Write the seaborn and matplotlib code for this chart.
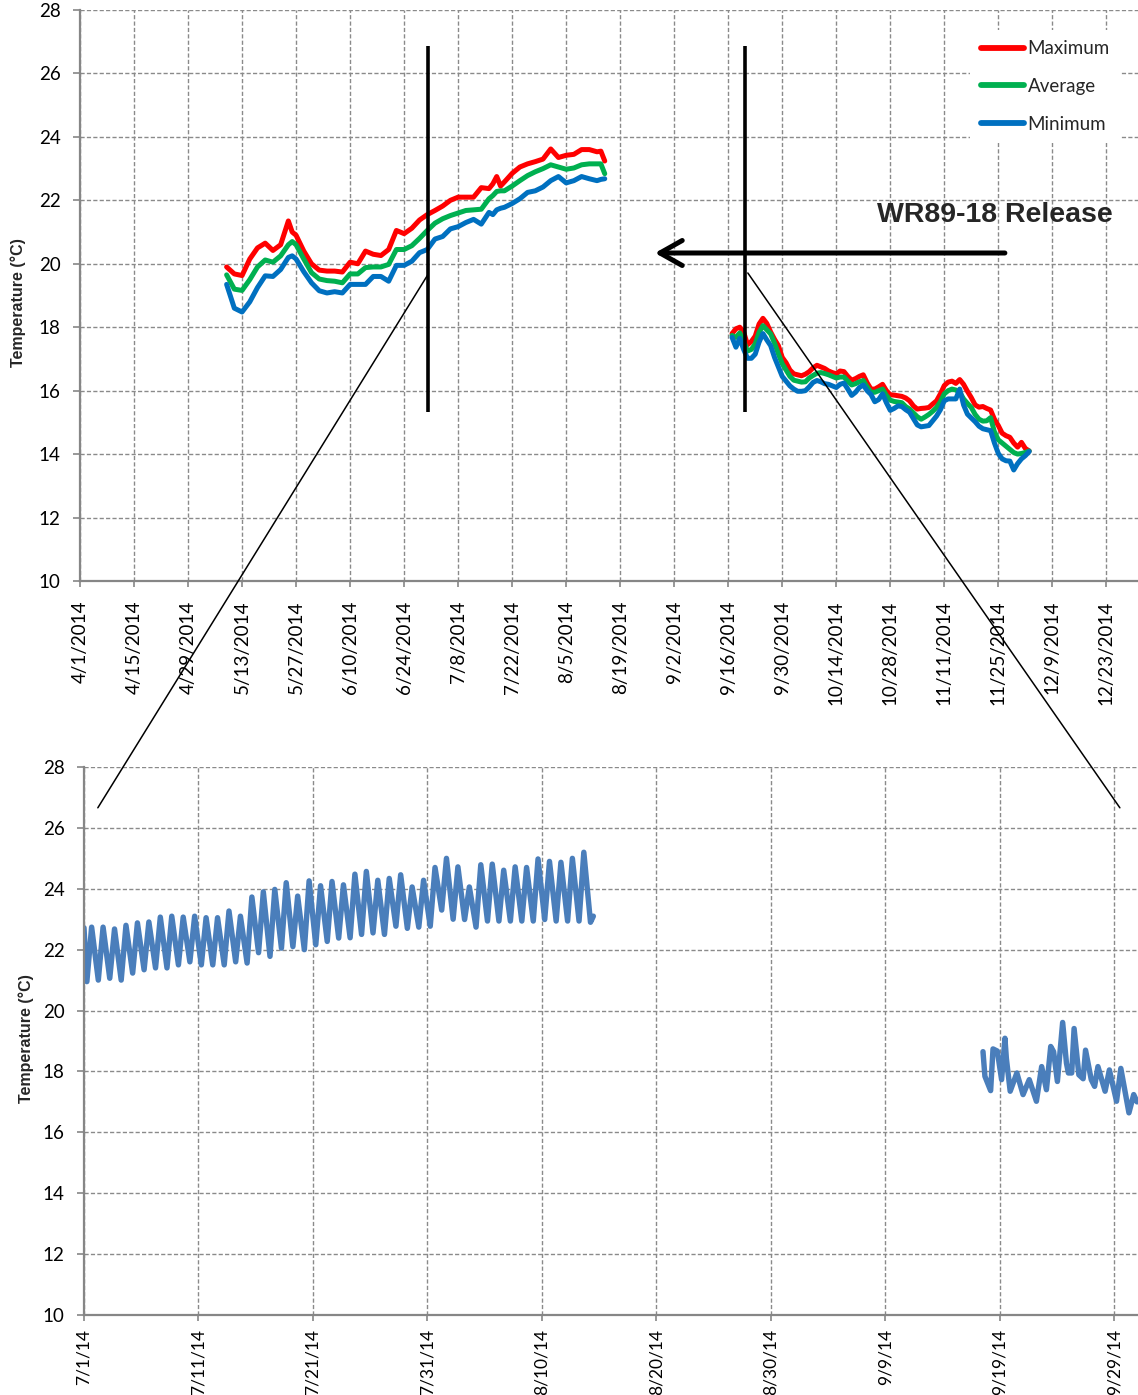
import pandas as pd
import matplotlib
matplotlib.use("Agg")
import matplotlib.pyplot as plt
import matplotlib.dates as mdates
from matplotlib.lines import Line2D
from matplotlib.patches import ConnectionPatch
import seaborn as sns

# ---------------------------------------------------------------------------
# Daily temperature statistics (deg C), spring/summer deployment
# ---------------------------------------------------------------------------
spring_dates = [
    "2014-05-09", "2014-05-11", "2014-05-13", "2014-05-15", "2014-05-17",
    "2014-05-19", "2014-05-21", "2014-05-23", "2014-05-25", "2014-05-26",
    "2014-05-27", "2014-05-29", "2014-05-31", "2014-06-02", "2014-06-04",
    "2014-06-06", "2014-06-08", "2014-06-10", "2014-06-12", "2014-06-14",
    "2014-06-16", "2014-06-18", "2014-06-20", "2014-06-22", "2014-06-24",
    "2014-06-26", "2014-06-28", "2014-06-30", "2014-07-02", "2014-07-04",
    "2014-07-06", "2014-07-08", "2014-07-10", "2014-07-12", "2014-07-14",
    "2014-07-16", "2014-07-17", "2014-07-18", "2014-07-19", "2014-07-20",
    "2014-07-22", "2014-07-24", "2014-07-26", "2014-07-28", "2014-07-30",
    "2014-08-01", "2014-08-03", "2014-08-05", "2014-08-07", "2014-08-09",
    "2014-08-11", "2014-08-13", "2014-08-14", "2014-08-15",
]
spring_max = [
    19.90, 19.68, 19.63, 20.15, 20.50, 20.65, 20.42, 20.60, 21.35, 21.00,
    20.90, 20.40, 20.00, 19.80, 19.77, 19.77, 19.74, 20.05, 20.00, 20.40,
    20.30, 20.26, 20.45, 21.05, 20.95, 21.12, 21.38, 21.55, 21.68, 21.82,
    22.00, 22.10, 22.10, 22.10, 22.40, 22.37, 22.52, 22.75, 22.45, 22.58,
    22.85, 23.05, 23.15, 23.22, 23.30, 23.62, 23.35, 23.42, 23.45, 23.60,
    23.60, 23.53, 23.55, 23.24,
]
spring_avg = [
    19.65, 19.20, 19.16, 19.50, 19.90, 20.12, 20.05, 20.25, 20.60, 20.70,
    20.60, 20.15, 19.72, 19.52, 19.47, 19.45, 19.40, 19.68, 19.68, 19.88,
    19.90, 19.90, 19.98, 20.45, 20.45, 20.57, 20.80, 21.05, 21.28, 21.42,
    21.52, 21.60, 21.68, 21.70, 21.72, 22.05, 22.15, 22.28, 22.30, 22.30,
    22.45, 22.62, 22.78, 22.90, 23.00, 23.12, 23.05, 22.98, 23.02, 23.12,
    23.15, 23.15, 23.15, 22.84,
]
spring_min = [
    19.35, 18.60, 18.48, 18.80, 19.25, 19.62, 19.60, 19.82, 20.20, 20.25,
    20.15, 19.75, 19.40, 19.15, 19.08, 19.12, 19.08, 19.35, 19.35, 19.35,
    19.60, 19.60, 19.45, 19.95, 19.95, 20.08, 20.35, 20.45, 20.78, 20.86,
    21.10, 21.17, 21.30, 21.40, 21.25, 21.62, 21.55, 21.70, 21.75, 21.78,
    21.90, 22.05, 22.25, 22.30, 22.42, 22.62, 22.75, 22.55, 22.62, 22.75,
    22.68, 22.62, 22.66, 22.68,
]

# ---------------------------------------------------------------------------
# Daily temperature statistics (deg C), autumn deployment, 9/17 - 12/3
# ---------------------------------------------------------------------------
fall_start, fall_end = "2014-09-17", "2014-12-03"
fall_max = [
    17.80, 17.95, 18.00, 17.85, 17.45, 17.55, 17.72, 18.10, 18.28, 18.12,
    17.85, 17.62, 17.42, 17.05, 16.88, 16.65, 16.53, 16.50, 16.47, 16.52,
    16.60, 16.72, 16.80, 16.75, 16.70, 16.62, 16.57, 16.53, 16.62, 16.60,
    16.45, 16.33, 16.38, 16.45, 16.50, 16.25, 16.05, 16.05, 16.12, 16.20,
    16.00, 15.87, 15.86, 15.84, 15.82, 15.77, 15.68, 15.52, 15.42, 15.44,
    15.45, 15.47, 15.58, 15.68, 15.90, 16.16, 16.27, 16.30, 16.23, 16.35,
    16.20, 15.98, 15.78, 15.55, 15.48, 15.50, 15.44, 15.39, 15.10, 14.90,
    14.66, 14.58, 14.53, 14.35, 14.22, 14.37, 14.18, 14.10,
]
fall_avg = [
    17.74, 17.68, 17.82, 17.55, 17.25, 17.30, 17.47, 17.84, 18.05, 17.92,
    17.79, 17.50, 17.16, 16.85, 16.65, 16.45, 16.33, 16.30, 16.27, 16.28,
    16.40, 16.48, 16.55, 16.57, 16.54, 16.50, 16.45, 16.40, 16.43, 16.43,
    16.30, 16.18, 16.22, 16.28, 16.32, 16.12, 15.95, 15.95, 16.00, 16.05,
    15.85, 15.70, 15.66, 15.64, 15.62, 15.50, 15.42, 15.30, 15.18, 15.10,
    15.17, 15.25, 15.35, 15.47, 15.65, 15.90, 16.00, 16.05, 16.02, 15.95,
    15.74, 15.60, 15.47, 15.25, 15.10, 15.04, 15.05, 15.15, 14.70, 14.45,
    14.35, 14.25, 14.15, 14.05, 14.00, 14.02, 14.05, 14.10,
]
fall_min = [
    17.68, 17.37, 17.65, 17.30, 17.02, 17.02, 17.15, 17.53, 17.80, 17.60,
    17.42, 17.05, 16.75, 16.45, 16.30, 16.15, 16.05, 15.98, 15.98, 16.00,
    16.12, 16.26, 16.32, 16.28, 16.22, 16.20, 16.15, 16.10, 16.20, 16.24,
    16.05, 15.85, 15.95, 16.10, 16.18, 16.00, 15.88, 15.65, 15.72, 15.90,
    15.62, 15.38, 15.44, 15.52, 15.50, 15.40, 15.32, 15.12, 14.92, 14.86,
    14.88, 14.90, 15.05, 15.20, 15.40, 15.68, 15.74, 15.74, 15.74, 16.05,
    15.55, 15.26, 15.14, 15.02, 14.88, 14.80, 14.77, 14.74, 14.35, 14.02,
    13.85, 13.79, 13.78, 13.50, 13.70, 13.85, 13.95, 14.08,
]

stat_names = ["Maximum", "Average", "Minimum"]
stat_colors = ["#FF0000", "#00B050", "#0070C0"]

# ---------------------------------------------------------------------------
# Sub-daily record: daily morning lows and afternoon highs, 7/1 - 8/14
# ---------------------------------------------------------------------------
july_first_reading = 22.72
july_lows = [
    20.95, 21.00, 21.06, 21.00, 21.23, 21.34, 21.40, 21.40, 21.50, 21.60,
    21.50, 21.50, 21.50, 21.60, 21.56, 21.90, 21.78, 22.05, 22.10, 22.00,
    22.16, 22.27, 22.38, 22.39, 22.50, 22.55, 22.50, 22.77, 22.70, 22.74,
    22.77, 23.30, 23.00, 22.99, 22.74, 22.94, 22.94, 22.94, 22.94, 22.94,
    22.99, 22.94, 22.94, 22.94, 22.90,
]
july_highs = [
    22.74, 22.74, 22.68, 22.80, 22.88, 22.91, 23.07, 23.10, 23.07, 23.10,
    23.05, 23.05, 23.27, 23.10, 23.73, 23.90, 23.98, 24.20, 23.76, 24.26,
    24.10, 24.24, 24.13, 24.48, 24.57, 24.28, 24.34, 24.46, 24.06, 24.28,
    24.70, 25.00, 24.72, 24.06, 24.79, 24.81, 24.61, 24.72, 24.70, 24.98,
    24.90, 24.87, 25.00, 25.20,
]
july_last_reading = 23.10

# Sub-daily record after redeployment, 9/17 - 10/1
sept_times = [
    "2014-09-17 13:00", "2014-09-17 17:00", "2014-09-18 05:00", "2014-09-18 10:00",
    "2014-09-18 19:00", "2014-09-19 04:00", "2014-09-19 11:00", "2014-09-19 14:00",
    "2014-09-19 22:00", "2014-09-20 12:00", "2014-09-21 01:00", "2014-09-21 14:00",
    "2014-09-22 05:00", "2014-09-22 16:00", "2014-09-23 02:00", "2014-09-23 11:00",
    "2014-09-23 17:00", "2014-09-24 01:00", "2014-09-24 12:00", "2014-09-24 20:00",
    "2014-09-25 00:00", "2014-09-25 07:00", "2014-09-25 12:00", "2014-09-25 22:00",
    "2014-09-26 07:00", "2014-09-26 12:00", "2014-09-27 00:00", "2014-09-27 07:00",
    "2014-09-27 14:00", "2014-09-28 05:00", "2014-09-28 14:00", "2014-09-29 05:00",
    "2014-09-29 14:00", "2014-09-30 07:00", "2014-09-30 17:00", "2014-10-01 00:00",
]
sept_temps = [
    18.65, 17.84, 17.37, 18.74, 18.67, 17.73, 19.09, 18.43,
    17.35, 17.95, 17.24, 17.73, 17.02, 18.16, 17.40, 18.82,
    18.65, 17.67, 19.61, 18.27, 17.95, 17.95, 19.41, 17.89,
    17.76, 18.70, 17.73, 17.51, 18.16, 17.35, 18.05, 17.02,
    18.10, 16.64, 17.24, 17.00,
]

top_tick_dates = pd.date_range("2014-04-01", "2014-12-23", freq="14D")
bottom_tick_dates = pd.date_range("2014-07-01", "2014-09-29", freq="10D")
y_ticks = list(range(10, 29, 2))

# ---------------------------------------------------------------------------
# Assemble long-form tables
# ---------------------------------------------------------------------------
frames = []
deployments = [
    (pd.to_datetime(spring_dates), (spring_max, spring_avg, spring_min)),
    (pd.date_range(fall_start, fall_end, freq="D"), (fall_max, fall_avg, fall_min)),
]
for seg, (dates, series) in enumerate(deployments):
    for name, vals in zip(stat_names, series):
        frames.append(pd.DataFrame({"date": dates, "temp": vals,
                                    "stat": name, "seg": seg}))
daily = pd.concat(frames, ignore_index=True)

july_t, july_v = [pd.Timestamp("2014-07-01 00:00")], [july_first_reading]
day0 = pd.Timestamp("2014-07-01")
for d, low in enumerate(july_lows):
    july_t.append(day0 + pd.Timedelta(days=d, hours=6))
    july_v.append(low)
    if d < len(july_highs):
        july_t.append(day0 + pd.Timedelta(days=d, hours=16))
        july_v.append(july_highs[d])
july_t.append(pd.Timestamp("2014-08-14 12:00"))
july_v.append(july_last_reading)
hourly = pd.concat([
    pd.DataFrame({"time": july_t, "temp": july_v, "seg": 0}),
    pd.DataFrame({"time": pd.to_datetime(sept_times), "temp": sept_temps, "seg": 1}),
], ignore_index=True)

# ---------------------------------------------------------------------------
# Figure
# ---------------------------------------------------------------------------
sns.set_theme(style="ticks")
plt.rcParams["font.family"] = ["Lato", "DejaVu Sans"]

W, H = 1138, 1395
fig = plt.figure(figsize=(W / 100, H / 100), dpi=100)
ax1 = fig.add_axes([80 / W, 1 - 581 / H, (W - 80) / W, 571 / H])
ax2 = fig.add_axes([84 / W, 1 - 1315 / H, (W - 84) / W, 548 / H])

sns.lineplot(data=daily, x="date", y="temp", hue="stat", hue_order=stat_names,
             palette=stat_colors, units="seg", estimator=None, sort=False,
             lw=3.6, legend=False, ax=ax1)
sns.lineplot(data=hourly, x="time", y="temp", units="seg", estimator=None,
             sort=False, color="#4A7EBB", lw=3.9, legend=False, ax=ax2)

grid_kw = dict(color="#8a8a8a", linestyle=(0, (3.0, 1.6)), linewidth=1.0)
label_kw = dict(fontfamily="Liberation Sans", fontweight="bold", fontsize=11.5)

for ax, ticks, fmt, xlim, lab_x, lab_y, xsize, xpad in [
    (ax1, top_tick_dates, lambda d: f"{d.month}/{d.day}/{d.year}",
     ("2014-04-01", "2014-12-31 05:00"), -0.058, 0.488, 13.5, 10),
    (ax2, bottom_tick_dates, lambda d: f"{d.month}/{d.day}/{d.year % 100}",
     ("2014-07-01", "2014-10-01 02:00"), -0.055, 0.504, 12.5, 6),
]:
    ax.set_ylim(10, 28)
    ax.set_yticks(y_ticks)
    ax.set_xlim(mdates.date2num(pd.Timestamp(xlim[0])), mdates.date2num(pd.Timestamp(xlim[1])))
    ax.set_xticks(mdates.date2num(ticks))
    ax.set_xticklabels([fmt(d) for d in ticks], rotation=90)
    ax.set_axisbelow(True)
    ax.grid(True, **grid_kw)
    for side in ("top", "right"):
        ax.spines[side].set_visible(False)
    for side in ("left", "bottom"):
        ax.spines[side].set_color("#868686")
        ax.spines[side].set_linewidth(1.6)
    ax.tick_params(axis="both", color="#868686", labelcolor="black", width=1.2,
                   direction="out", labelsize=13.5)
    ax.tick_params(axis="y", length=5, pad=9)
    ax.tick_params(axis="x", length=4, pad=xpad, labelsize=xsize)
    ax.set_xlabel("")
    ax.set_ylabel("Temperature (°C)", **label_kw)
    ax.yaxis.set_label_coords(lab_x, lab_y)
    ax.yaxis.label.set_va("center")

# Release markers, arrow and caption
marker_dates = [pd.Timestamp("2014-06-30 03:00"), pd.Timestamp("2014-09-20 07:00")]
for md in marker_dates:
    ax1.plot([md, md], [15.33, 26.87], color="black", lw=2.6,
             solid_capstyle="butt", zorder=5)
ax1.annotate("", xy=(mdates.date2num(pd.Timestamp("2014-08-28")), 20.34),
             xytext=(mdates.date2num(pd.Timestamp("2014-11-26 17:00")), 20.34),
             arrowprops=dict(arrowstyle="->,head_length=0.8,head_width=0.45",
                             lw=3.6, color="black", shrinkA=0, shrinkB=0,
                             mutation_scale=20), zorder=5)
ax1.text(mdates.date2num(pd.Timestamp("2014-12-24 17:00")), 21.32, "WR89-18 Release",
         ha="right", va="baseline", fontsize=20.5, fontweight="bold",
         fontfamily="Liberation Sans", zorder=6)

# Legend
handles = [Line2D([], [], color=c, lw=4.2) for c in stat_colors]
leg = ax1.legend(handles, stat_names, loc="upper right", bbox_to_anchor=(0.983, 0.965),
                 frameon=True, fancybox=False, facecolor="white", edgecolor="none",
                 framealpha=1, fontsize=13.5, handlelength=2.3, handletextpad=0.2,
                 labelspacing=1.1, borderpad=0.55, borderaxespad=0)

# Zoom connectors from the upper record to the detailed view
for top_pt, bot_pt in [
    ((pd.Timestamp("2014-06-30 03:00"), 19.65), (pd.Timestamp("2014-07-02 05:00"), 26.66)),
    ((pd.Timestamp("2014-09-21 02:00"), 19.71), (pd.Timestamp("2014-09-29 12:00"), 26.66)),
]:
    con = ConnectionPatch(xyA=(mdates.date2num(top_pt[0]), top_pt[1]), coordsA=ax1.transData,
                          xyB=(mdates.date2num(bot_pt[0]), bot_pt[1]), coordsB=ax2.transData,
                          color="black", lw=1.1, zorder=10)
    fig.add_artist(con)

fig.savefig("out.png", dpi=100)
